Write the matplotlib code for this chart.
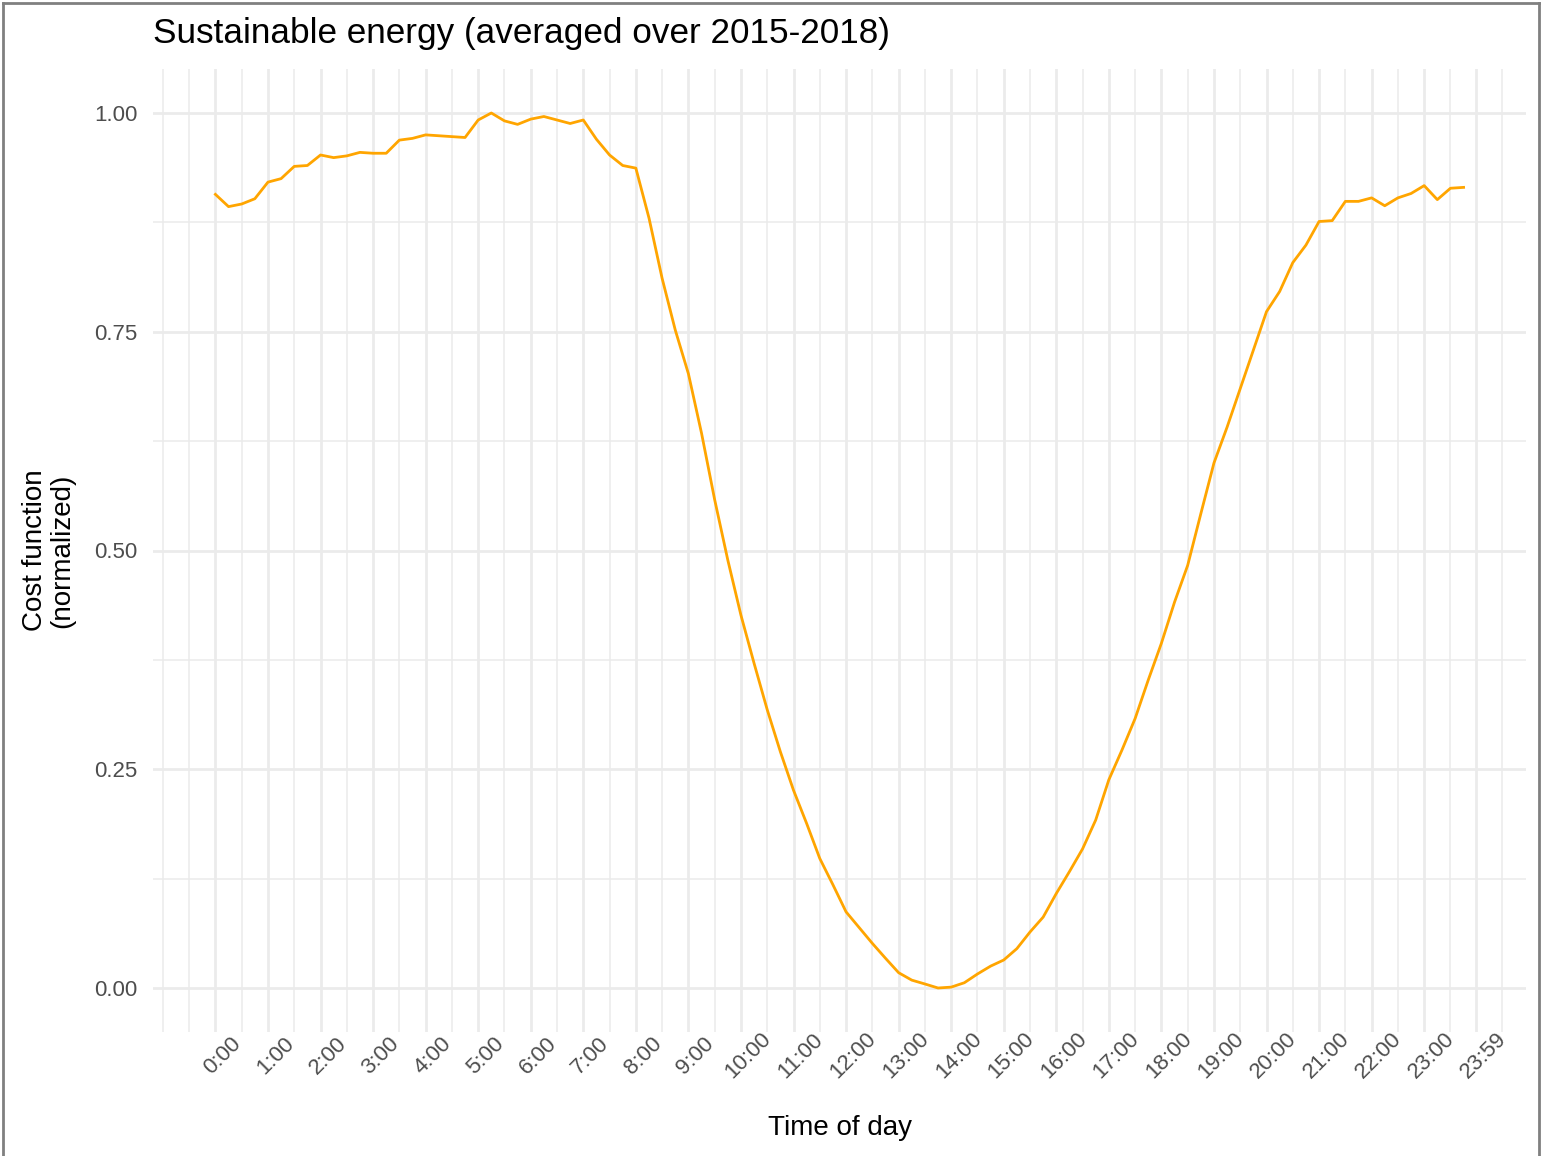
import numpy as np
import matplotlib.pyplot as plt
from matplotlib.lines import Line2D

# cost function, one value every 15 minutes from 0:00 to 23:45
cost = [
    0.907, 0.893, 0.896, 0.902, 0.921, 0.925, 0.939, 0.940,
    0.952, 0.949, 0.951, 0.955, 0.954, 0.954, 0.969, 0.971,
    0.975, 0.974, 0.973, 0.972, 0.992, 1.000, 0.991, 0.987,
    0.993, 0.996, 0.992, 0.988, 0.992, 0.970, 0.952, 0.940,
    0.937, 0.880, 0.811, 0.752, 0.702, 0.634, 0.558, 0.489,
    0.426, 0.371, 0.318, 0.270, 0.226, 0.188, 0.148, 0.118,
    0.087, 0.069, 0.051, 0.034, 0.0175, 0.009, 0.0046, 0.000,
    0.001, 0.006, 0.016, 0.025, 0.032, 0.045, 0.064, 0.081,
    0.108, 0.133, 0.159, 0.192, 0.238, 0.272, 0.308, 0.352,
    0.394, 0.441, 0.483, 0.542, 0.600, 0.641, 0.685, 0.729,
    0.773, 0.796, 0.829, 0.849, 0.876, 0.877, 0.899, 0.899,
    0.903, 0.894, 0.903, 0.908, 0.917, 0.901, 0.914, 0.915,
]
hours = np.arange(len(cost)) * 0.25

tick_hours = list(range(24)) + [23 + 59 / 60]
tick_labels = [f"{h}:00" for h in range(24)] + ["23:59"]
y_ticks = [0.0, 0.25, 0.5, 0.75, 1.0]
y_labels = ["0.00", "0.25", "0.50", "0.75", "1.00"]

plt.rcParams["font.family"] = ["Liberation Sans", "DejaVu Sans"]

W, H = 1541, 1156
fig = plt.figure(figsize=(W / 100, H / 100), dpi=100)
ax = fig.add_axes([153 / W, 1 - 1031.75 / H, (1526 - 153) / W, (1031.75 - 69.25) / H])

grid_col = "#EBEBEB"
# minor grid lines (ggplot style, midway between majors plus one extra step)
ext = [-1.0] + tick_hours + [tick_hours[-1] + 1]
minor_x = [(a + b) / 2 for a, b in zip(ext[:-1], ext[1:])] + [-1.0]
for x in minor_x:
    ax.axvline(x, color=grid_col, lw=1.1, zorder=0)
for x in tick_hours:
    ax.axvline(x, color=grid_col, lw=2.0, zorder=0)
for y in [-0.125, 0.125, 0.375, 0.625, 0.875]:
    ax.axhline(y, color=grid_col, lw=1.1, zorder=0)
for y in y_ticks:
    ax.axhline(y, color=grid_col, lw=2.0, zorder=0)

ax.plot(hours, cost, color="#FFA500", lw=2.0, zorder=3)

ax.set_xlim(-1.1875, 24.9375)
ax.set_ylim(-0.05, 1.05)

ax.set_xticks(tick_hours)
ax.set_xticklabels(tick_labels, rotation=45, ha="center", va="top",
                   rotation_mode="anchor", fontsize=16, color="#4D4D4D")
ax.set_yticks(y_ticks)
ax.set_yticklabels(y_labels, fontsize=16, color="#4D4D4D")
ax.tick_params(axis="x", length=0, pad=12)
ax.tick_params(axis="y", length=0, pad=11)

for s in ax.spines.values():
    s.set_visible(False)

ax.set_xlabel("Time of day", fontsize=20, labelpad=23)
ax.set_ylabel("Cost function\n(normalized)", fontsize=20, labelpad=14, linespacing=1.05)
fig.text(153 / W, 1 - 34 / H, "Sustainable energy (averaged over 2015-2018)",
         fontsize=25.3, ha="left", va="center")

# grey frame around the picture
frame = dict(color="#808080", lw=2.0, transform=fig.transFigure)
fig.add_artist(Line2D([3 / W, 3 / W], [0, 1 - 3 / H], **frame))
fig.add_artist(Line2D([3 / W, 1539 / W], [1 - 3 / H, 1 - 3 / H], **frame))
fig.add_artist(Line2D([1539 / W, 1539 / W], [0, 1 - 3 / H], **frame))

fig.savefig("out.png", dpi=100)
